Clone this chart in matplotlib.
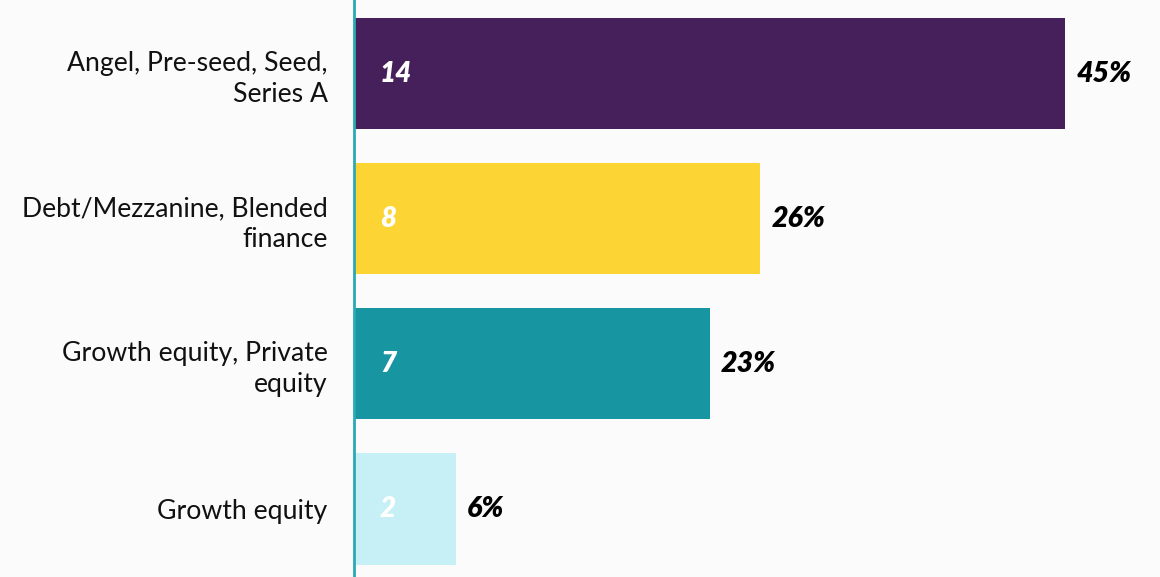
import numpy as np
import matplotlib
matplotlib.use("Agg")
from matplotlib import pyplot as plt

categories = ["Angel, Pre-seed, Seed,\nSeries A",
              "Debt/Mezzanine, Blended\nfinance",
              "Growth equity, Private\nequity",
              "Growth equity"]
counts = [14, 8, 7, 2]
shares = ["45%", "26%", "23%", "6%"]
colors = ["#46205a", "#fcd535", "#1796a1", "#c6f0f5"]

plt.rcParams['font.family'] = ['Lato', 'DejaVu Sans']

fig = plt.figure(figsize=(11.6, 5.77), dpi=100)
fig.patch.set_facecolor("#fbfbfb")
ax = fig.add_axes([354/1160, 0, 806/1160, 1])
ax.set_facecolor("#fbfbfb")

ypos = np.arange(len(counts))
ax.barh(ypos, counts, height=0.766, color=colors, left=0)

for y, c, s in zip(ypos, counts, shares):
    # count inside the bar, share just past its end
    ax.annotate(str(c), (0, y), xytext=(26, 0), textcoords="offset pixels",
                ha="left", va="center", color="white", fontsize=20,
                fontweight="heavy", fontstyle="italic")
    ax.annotate(s, (c, y), xytext=(11, 0), textcoords="offset pixels",
                ha="left", va="center", color="black", fontsize=20.5,
                fontweight="heavy", fontstyle="italic")

ax.set_xlim(0, 806/50.8)
ax.set_ylim(3 + 68/145, -73.5/145)

ax.set_yticks(ypos)
ax.set_yticklabels(categories, fontsize=19.2, linespacing=1.3, color="#111111")
ax.tick_params(axis="y", length=0, pad=19)
ax.set_xticks([])

for side in ["top", "right", "bottom"]:
    ax.spines[side].set_visible(False)
ax.spines["left"].set_color("#2ba9b4")
ax.spines["left"].set_linewidth(2)

fig.savefig("out.png", dpi=100, facecolor=fig.get_facecolor())
